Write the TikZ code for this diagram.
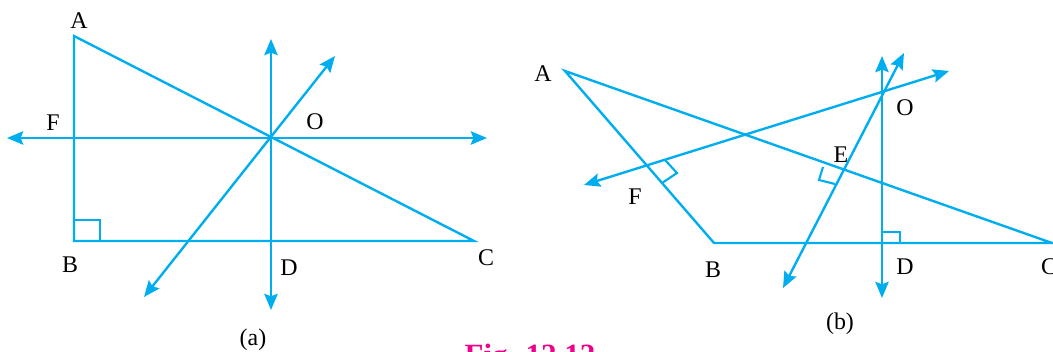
\documentclass[tikz,border=0pt]{standalone}
\usepackage{fontspec}
\setmainfont{Liberation Serif}
\usetikzlibrary{arrows.meta,calc}
\definecolor{lineblue}{RGB}{0,174,239}
\definecolor{figmagenta}{RGB}{236,0,140}

\begin{document}
\begin{tikzpicture}[x=0.025cm, y=-0.025cm,
    seg/.style={lineblue, line width=1.7pt, line join=miter},
    ray/.style={seg, {Stealth[length=11.5pt,width=9.5pt,inset=1.8pt]}-{Stealth[length=11.5pt,width=9.5pt,inset=1.8pt]}},
    rightmark/.style={lineblue, line width=1.5pt},
    lbl/.style={inner sep=0pt, font=\fontsize{17}{20}\selectfont}]
    \useasboundingbox (0,0) rectangle (1053,352);

    % (a) right triangle
    \coordinate (aA) at (74,36);
    \coordinate (aB) at (74,241);
    \coordinate (aC) at (474,241);
    \coordinate (aO) at (271,138);
    \coordinate (aHl) at (7,138);
    \coordinate (aHr) at (487,138);
    \coordinate (aVt) at (271,39);
    \coordinate (aVb) at (271,310);
    \coordinate (aDt) at (335,56);
    \coordinate (aDb) at (144,297);

    \draw[seg] (aA) -- (aB) -- (aC) -- cycle;
    \draw[ray] (aHl) -- (aHr);
    \draw[ray] (aVb) -- (aVt);
    \draw[ray] (aDb) -- (aDt);
    \draw[rightmark] (aB) ++(0,-21) -| ($(aB)+(26,0)$);

    \node[lbl] (labA) at (79,21) {A};
    \node[lbl] (labF) at (53,123) {F};
    \node[lbl] (labO) at (315,122) {O};
    \node[lbl] (labB) at (70,265) {B};
    \node[lbl] (labD) at (289,268) {D};
    \node[lbl] (labC) at (486,258) {C};
    \node[lbl] (capa) at (253,340) {(a)};

    % (b) obtuse triangle
    \coordinate (bA) at (565,71);
    \coordinate (bB) at (714,243);
    \coordinate (bC) at (1052,243);
    \coordinate (bO) at (882,92);
    \coordinate (bVt) at (882,56);
    \coordinate (bVb) at (882,298);
    \coordinate (bEt) at (904,53);
    \coordinate (bEb) at (783,288);
    \coordinate (bFl) at (584,185);
    \coordinate (bFr) at (949,71);

    \draw[seg] (bA) -- (bB) -- (bC) -- cycle;
    \draw[ray] (bVb) -- (bVt);
    \draw[ray] (bEb) -- (bEt);
    \draw[ray] (bFl) -- (bFr);
    \draw[rightmark] (665,160) -- (677,173) -- (662,183);
    \draw[rightmark] (823,167) -- (819,180) -- (835,184);
    \draw[rightmark] (882,232) -- (900,232) -- (900,243);

    \node[lbl] (lbA) at (543,74) {A};
    \node[lbl] (lbF) at (635,197) {F};
    \node[lbl] (lbE) at (841,155) {E};
    \node[lbl] (lbO) at (905,108) {O};
    \node[lbl] (lbB) at (713,270) {B};
    \node[lbl] (lbD) at (905,267) {D};
    \node[lbl] (lbC) at (1049,267) {C};
    \node[lbl] (capb) at (840,324) {(b)};

    \node[anchor=base, inner sep=0pt, text=figmagenta, font=\fontsize{22}{26}\selectfont\bfseries] (fig) at (530,366) {Fig. 12.12};
\end{tikzpicture}
\end{document}
